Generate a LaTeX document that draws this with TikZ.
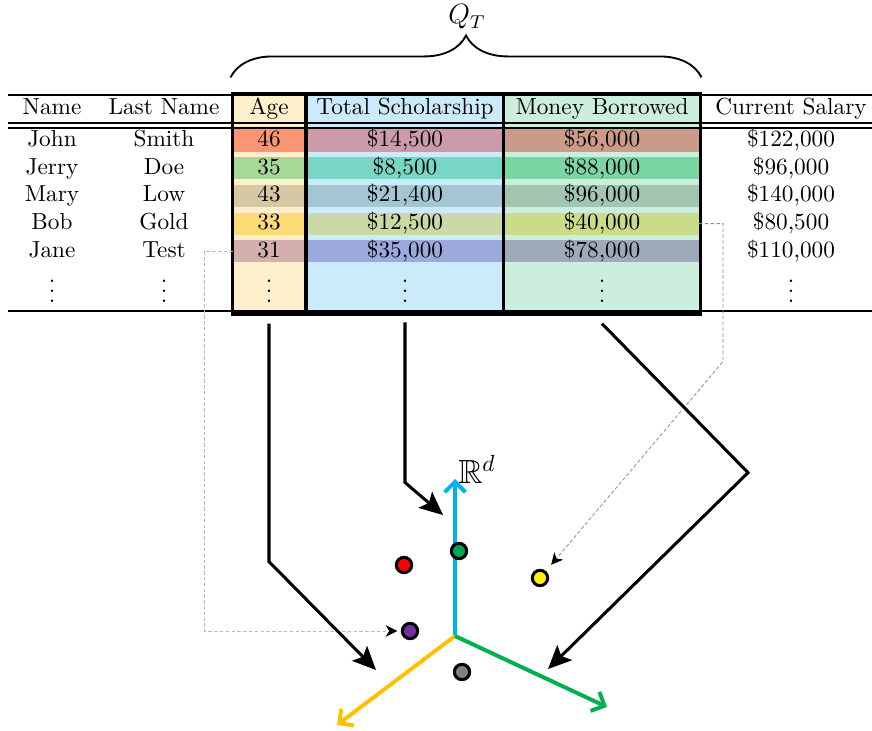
\documentclass[tikz,border=0pt]{standalone}
\usepackage{amsmath,amssymb}
\usepackage{tikz}
\usetikzlibrary{arrows.meta}
\usetikzlibrary{decorations.pathreplacing}

\definecolor{agebg}{HTML}{FFF0CC}
\definecolor{schbg}{HTML}{CCEBFA}
\definecolor{borbg}{HTML}{CCEEDD}
\definecolor{age1}{HTML}{FA9473}
\definecolor{age2}{HTML}{A8D898}
\definecolor{age3}{HTML}{D6C8A3}
\definecolor{age4}{HTML}{FDDB78}
\definecolor{age5}{HTML}{D3AFAE}
\definecolor{sch1}{HTML}{CC9AA8}
\definecolor{sch2}{HTML}{78D6C4}
\definecolor{sch3}{HTML}{A3C6D2}
\definecolor{sch4}{HTML}{CAD9A6}
\definecolor{sch5}{HTML}{9CA9DC}
\definecolor{bor1}{HTML}{CC9A88}
\definecolor{bor2}{HTML}{7AD6A4}
\definecolor{bor3}{HTML}{A3C6B3}
\definecolor{bor4}{HTML}{CADB8A}
\definecolor{bor5}{HTML}{9EAAB8}
\definecolor{axblue}{HTML}{00B0F0}
\definecolor{axorange}{HTML}{FFC000}
\definecolor{axgreen}{HTML}{00B050}
\definecolor{dotgreen}{HTML}{00A651}
\definecolor{dotpurple}{HTML}{7030A0}

% three dots without the kern on top
\newcommand{\moredots}{\vbox{\baselineskip4.3pt\lineskiplimit0pt\hbox{.}\hbox{.}\hbox{.}}}

\tikzset{
  cell/.style={inner sep=0pt, text height=1.7ex, text depth=.5ex},
  band/.style={cell, minimum height=9pt},
  colbox/.style={draw, line width=1.3pt, inner sep=0pt, minimum height=94.6pt},
  rule/.style={line width=.5pt},
  bigarrow/.style={line width=1.3pt, -{Stealth[length=10pt,width=9pt,inset=2pt]}},
  axis/.style={line width=1.7pt, -{Straight Barb[length=4.5pt,width=9pt]}},
  dot/.style={circle, draw, line width=1.3pt, inner sep=0pt, minimum size=6.6pt},
  hint/.style={line width=.35pt, dash pattern=on 1.5pt off 1pt, -{Stealth[length=5pt,width=5pt,inset=1.5pt,black]}}
}

\begin{document}
\begin{tikzpicture}[x=0.43pt,y=-0.43pt]
  \useasboundingbox (0,0) rectangle (872,730);

  % the three columns that are mapped
  \node[colbox, fill=agebg, minimum width=31.8pt] (agecol) at (269,204) {};
  \node[colbox, fill=schbg, minimum width=85.1pt] (schcol) at (405,204) {};
  \node[colbox, fill=borbg, minimum width=84.3pt] (borcol) at (602,204) {};

  % rules
  \draw[rule] (8,95) -- (872,95);
  \draw[rule] (8,123) -- (872,123);
  \draw[rule] (8,128) -- (872,128);
  \draw[rule] (8,311) -- (872,311);

  % header
  \node[cell] (hname) at (52,108) {Name};
  \node[cell] (hlast) at (164,108) {Last Name};
  \node[cell] (hage) at (269,108) {Age};
  \node[cell] (hsch) at (405,108) {Total Scholarship};
  \node[cell] (hbor) at (602,108) {Money Borrowed};
  \node[cell] (hsal) at (791,108) {Current Salary};

  % rows
  \foreach \v [count=\i] in {John,Jerry,Mary,Bob,Jane}
    \node[cell] (name\i) at (52,{112.8+27.7*\i}) {\v};
  \foreach \v [count=\i] in {Smith,Doe,Low,Gold,Test}
    \node[cell] (last\i) at (164,{112.8+27.7*\i}) {\v};
  \foreach \v [count=\i] in {46,35,43,33,31}
    \node[band, fill=age\i, minimum width=30.4pt] (age\i) at (269,{112.8+27.7*\i}) {\v};
  \foreach \v [count=\i] in {{14,500},{8,500},{21,400},{12,500},{35,000}}
    \node[band, fill=sch\i, minimum width=83.8pt] (sch\i) at (405,{112.8+27.7*\i}) {\$\v};
  \foreach \v [count=\i] in {{56,000},{88,000},{96,000},{40,000},{78,000}}
    \node[band, fill=bor\i, minimum width=83pt] (bor\i) at (602,{112.8+27.7*\i}) {\$\v};
  \foreach \v [count=\i] in {{122,000},{96,000},{140,000},{80,500},{110,000}}
    \node[cell] (sal\i) at (791,{112.8+27.7*\i}) {\$\v};
  \foreach \x/\n in {52/name,164/last,269/age,405/sch,602/bor,791/sal}
    \node[inner sep=0pt] (\n6) at (\x,291) {\moredots};

  % brace
  \draw[line width=.8pt, decorate, decoration={brace, amplitude=18pt}]
    ([yshift=6.5pt]agecol.north west) -- ([yshift=6.5pt]borcol.north east);
  \node[font=\large] (qt) at (467,17) {$Q_T$};

  % the space
  \coordinate (o) at (455,636);
  \draw[axis, axblue] (o) -- (455,479);
  \draw[axis, axorange] (o) -- (337,725);
  \draw[axis, axgreen] (o) -- (607,707);
  \node[font=\Large] (rd) at (477,469) {$\mathbb{R}^d$};

  \node[dot, fill=red] (john) at (404,565) {};
  \node[dot, fill=dotgreen] (jerry) at (459,551) {};
  \node[dot, fill=gray] (mary) at (462,672) {};
  \node[dot, fill=yellow] (bob) at (540,578) {};
  \node[dot, fill=dotpurple] (jane) at (410,631) {};

  % single records
  \draw[hint, gray!55, shorten >=1.5pt] (age5.west) -- ++(-29,0) |- (jane);
  \draw[hint, gray!90, shorten >=3.5pt] (bor4.east) -- ++(24,0) -- ++(0,138) -- (bob);

  % columns
  \coordinate (agetip) at (376,670);
  \coordinate (schtip) at (443,515);
  \coordinate (bortip) at (548,669);
  \draw[bigarrow] ([yshift=-3.5pt]agecol.south) -- ++(0,238) -- (agetip);
  \draw[bigarrow] ([yshift=-3pt]schcol.south) -- ++(0,160) -- (schtip);
  \draw[bigarrow] ([yshift=-3.5pt]borcol.south) -- ++(146,149) -- (bortip);
\end{tikzpicture}
\end{document}
